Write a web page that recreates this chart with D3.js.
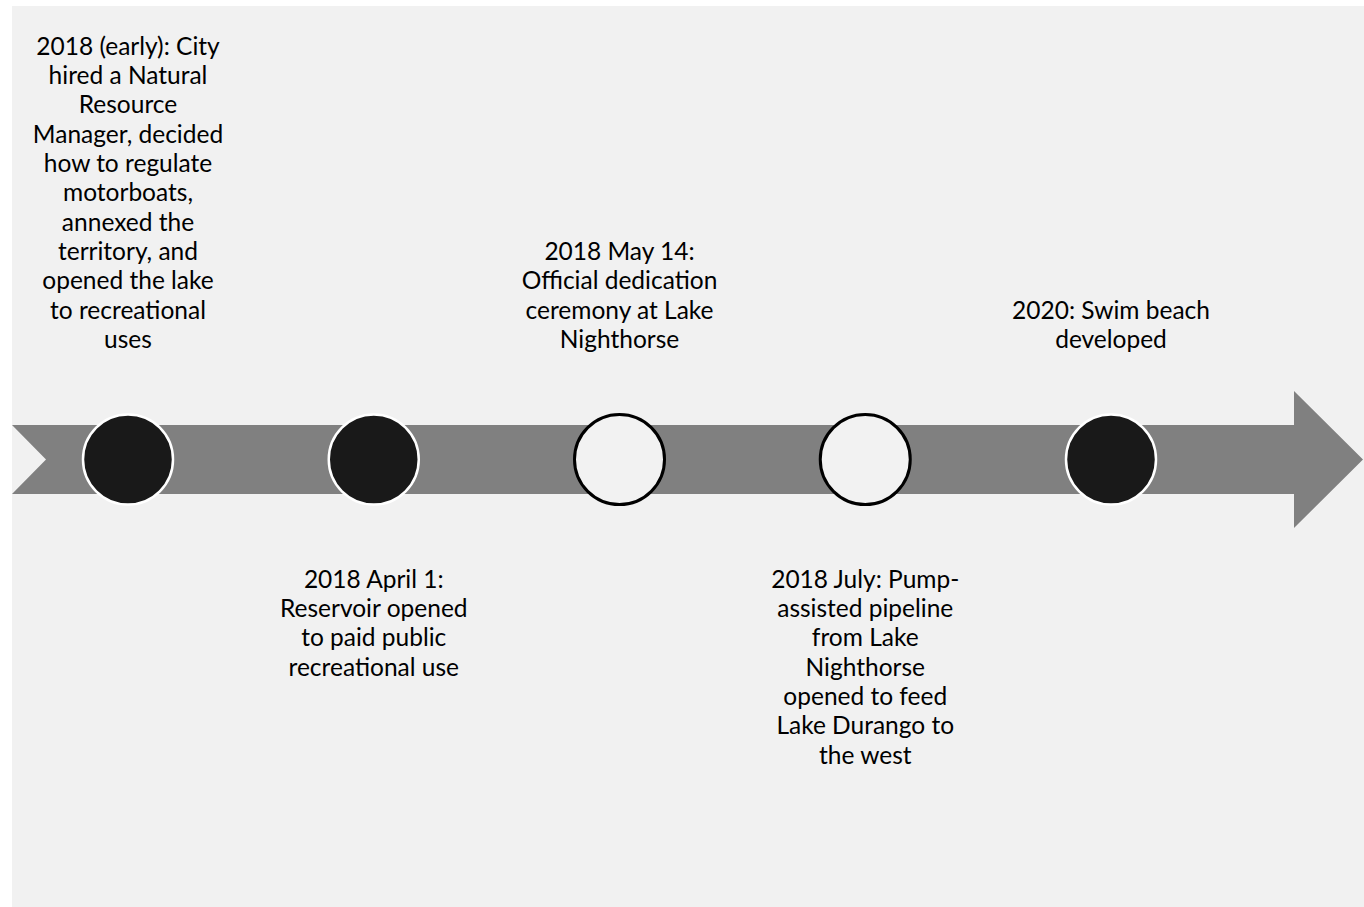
<!DOCTYPE html>
<html>
<head>
<meta charset="utf-8">
<script src="https://cdn.jsdelivr.net/npm/d3@7"></script>
<style>
  html, body { margin: 0; padding: 0; background: #ffffff; }
  svg { display: block; }
</style>
</head>
<body>
<div id="chart"></div>
<script>
(function(){

    var width = 1364;
    var height = 907;

    // timeline events, left to right
    var eventIds = ["e1", "e2", "e3", "e4", "e5"];
    var eventFilled = [true, true, false, false, true];
    var eventSide = ["above", "below", "above", "below", "above"];
    var eventLines = [
        ["2018 (early): City", "hired a Natural", "Resource", "Manager, decided", "how to regulate",
         "motorboats,", "annexed the", "territory, and", "opened the lake", "to recreational", "uses"],
        ["2018 April 1:", "Reservoir opened", "to paid public", "recreational use"],
        ["2018 May 14:", "Official dedication", "ceremony at Lake", "Nighthorse"],
        ["2018 July: Pump-", "assisted pipeline", "from Lake", "Nighthorse", "opened to feed",
         "Lake Durango to", "the west"],
        ["2020: Swim beach", "developed"]
    ];

    var panel = {x: 12, y: 6};
    var band = {top: 425, bottom: 494, notch: 46, headX: 1294, headTop: 391, headBottom: 528, tip: 1363};
    var radius = 45;
    var lineH = 29.3;
    var aboveLastLine = 339;   // centre of the last line of the upper labels
    var belowFirstLine = 579;  // centre of the first line of the lower labels

    var svg = d3.select("#chart")
        .append("svg")
        .attr("width", width)
        .attr("height", height);

    // grey panel
    svg.append("rect")
        .attr("x", panel.x)
        .attr("y", panel.y)
        .attr("width", width - panel.x)
        .attr("height", height - panel.y)
        .attr("fill", "#f1f1f1");

    var midY = (band.top + band.bottom) / 2;

    // the arrow
    var arrowPts = [
        [panel.x, band.top], [band.headX, band.top], [band.headX, band.headTop],
        [band.tip, midY], [band.headX, band.headBottom], [band.headX, band.bottom],
        [panel.x, band.bottom], [band.notch, midY]
    ];
    svg.append("path")
        .attr("d", d3.line()(arrowPts) + "Z")
        .attr("fill", "#808080");

    var x = d3.scalePoint()
        .domain(eventIds)
        .range([128, 1111]);

    var data = eventIds.map(function(id, i) {
        return {id: id, filled: eventFilled[i], side: eventSide[i], lines: eventLines[i]};
    });

    svg.selectAll("circle.dot")
        .data(data)
        .enter()
        .append("circle")
        .attr("class", "dot")
        .attr("cx", function(d) { return x(d.id); })
        .attr("cy", midY)
        .attr("r", radius)
        .attr("fill", function(d) { return d.filled ? "#191919" : "#f2f2f2"; })
        .attr("stroke", function(d) { return d.filled ? "#ffffff" : "#000000"; })
        .attr("stroke-width", function(d) { return d.filled ? 2.5 : 3; });

    var labels = svg.selectAll("text.label")
        .data(data)
        .enter()
        .append("text")
        .attr("class", "label")
        .attr("text-anchor", "middle")
        .attr("font-family", "Lato, 'Open Sans', sans-serif")
        .attr("font-size", 24.5)
        .attr("fill", "#000000");

    labels.each(function(d) {
        var first = d.side === "above"
            ? aboveLastLine - (d.lines.length - 1) * lineH
            : belowFirstLine;
        d3.select(this).selectAll("tspan")
            .data(d.lines)
            .enter()
            .append("tspan")
            .attr("x", x(d.id))
            .attr("y", function(l, i) { return first + i * lineH; })
            .attr("dy", "0.36em")
            .text(function(l) { return l; });
    });

})();
</script>
</body>
</html>
